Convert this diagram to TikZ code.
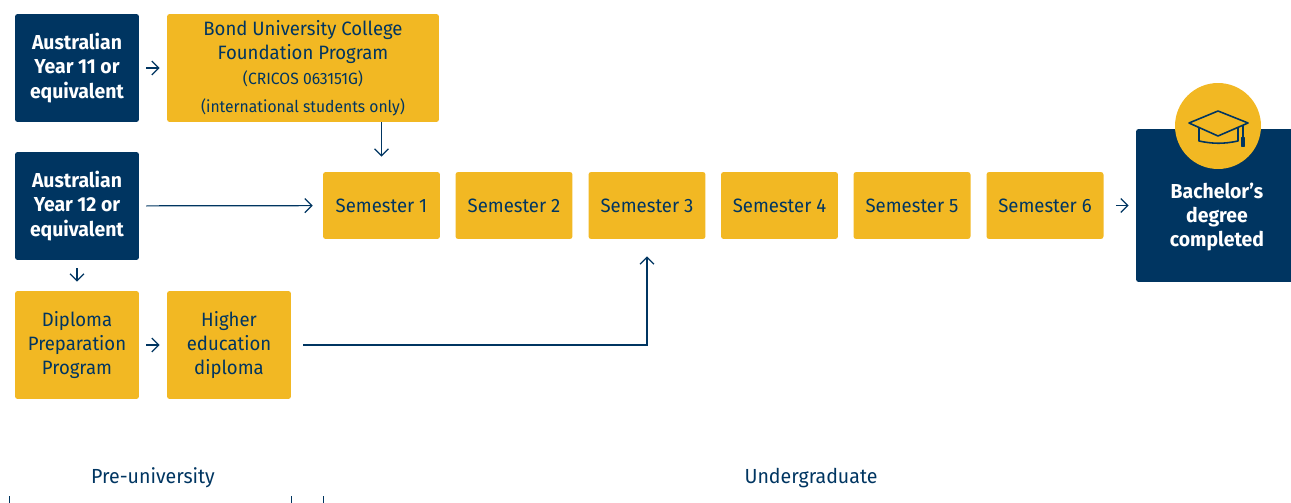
\documentclass[tikz,border=0pt]{standalone}
\usepackage{fontspec}
\setmainfont{Fira Sans}[FakeStretch=0.96]
\usepackage{xcolor}
\usepackage{tikz}
\usetikzlibrary{
  positioning,
  calc,
  arrows.meta
}
\definecolor{bondnavy}{HTML}{003561}
\definecolor{bondgold}{HTML}{F2B823}

\begin{document}
\begin{tikzpicture}[
      x=0.02cm, y=-0.02cm,
      navybox/.style={rectangle, rounded corners=1.5pt, fill=bondnavy, text=white, inner sep=0pt, minimum width=2.48cm, minimum height=2.16cm, align=center, font=\fontsize{11.5}{13.8}\selectfont\bfseries},
      goldbox/.style={rectangle, rounded corners=1.5pt, fill=bondgold, text=bondnavy, inner sep=0pt, minimum width=2.48cm, minimum height=2.16cm, align=center, font=\fontsize{11}{13.6}\selectfont},
      semester/.style={goldbox, minimum width=2.34cm, minimum height=1.34cm},
      arrow/.style={-{Straight Barb[length=1.4mm, width=2.8mm]}, draw=bondnavy, line width=0.7pt},
      phase/.style={text=bondnavy, font=\fontsize{11.6}{13}\selectfont}
    ]
      \useasboundingbox (0,0) rectangle (1291,503);

      % Entry routes
      \node[navybox] (year11) at (77,68) {Australian\\Year 11 or\\equivalent};
      \node[goldbox, minimum width=5.44cm] (found) at (303,68) {Bond University College\\Foundation Program\\[1pt]{\fontsize{9.3}{11}\selectfont (CRICOS 063151G)}\\[2pt]{\fontsize{9.3}{11}\selectfont (international students only)}};
      \node[navybox] (year12) at (77,206) {Australian\\Year 12 or\\equivalent};
      \node[goldbox] (dipprep) at (77,345) {Diploma\\Preparation\\Program};
      \node[goldbox] (higher) at (229,345) {Higher\\education\\diploma};

      % Semesters
      \node[semester] (sem1) at (381.5,205.5) {Semester 1};
      \node[semester] (sem2) at (514,205.5) {Semester 2};
      \node[semester] (sem3) at (647,205.5) {Semester 3};
      \node[semester] (sem4) at (779.5,205.5) {Semester 4};
      \node[semester] (sem5) at (912,205.5) {Semester 5};
      \node[semester] (sem6) at (1045,205.5) {Semester 6};

      % Result
      \node[navybox, minimum width=3.24cm, minimum height=3.06cm] (bach) at (1217,205.5) {\\[8pt]Bachelor's\\degree\\completed};
      \node[circle, fill=bondgold, minimum size=1.72cm] (badge) at (1218,126) {};
      \begin{scope}[shift={(badge.center)}, draw=bondnavy, line width=0.9pt, line join=round]
        \draw (-29,-3) -- (0,-15) -- (30,-3) -- (0,10) -- cycle;
        \draw (-19,2) -- (-19,15) .. controls (-5,18) and (6,18) .. (20,15) -- (20,2);
        \draw (25,-1) -- (25,13);
        \draw[fill=bondnavy] (23.5,12) rectangle (26.5,20);
      \end{scope}

      % Arrows
      \draw[arrow, shorten <=0.14cm, shorten >=0.14cm] (year11) -- (found);
      \draw[arrow, shorten >=0.3cm] (found.south -| sem1) -- (sem1);
      \draw[arrow, shorten <=0.14cm, shorten >=0.2cm] (year12) -- (sem1);
      \draw[arrow, shorten <=0.16cm, shorten >=0.18cm] (year12) -- (dipprep);
      \draw[arrow, shorten <=0.14cm, shorten >=0.14cm] (dipprep) -- (higher);
      \draw[arrow, shorten <=0.24cm, shorten >=0.34cm] (higher.east) -| (sem3.south);
      \draw[arrow, shorten <=0.24cm, shorten >=0.14cm] (sem6) -- (bach.west |- sem6);

      % Phases
      \node[phase] (preuni) at (153,478) {Pre-university};
      \node[phase] (undergrad) at (811,478) {Undergraduate};
      \coordinate (t1) at (9,496);
      \coordinate (t2) at (291,496);
      \coordinate (t3) at (323,496);
      \draw[bondnavy, line width=0.5pt] (t1) -- ++(0,10);
      \draw[bondnavy, line width=0.5pt] (t2) -- ++(0,10);
      \draw[bondnavy, line width=0.5pt] (t3) -- ++(0,10);
    \end{tikzpicture}
\end{document}
